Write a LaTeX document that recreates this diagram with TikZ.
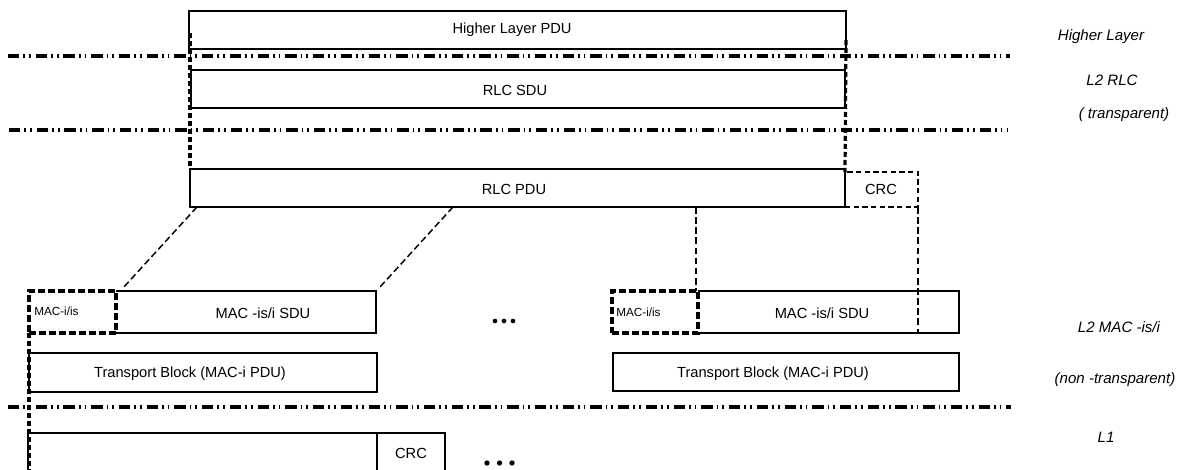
\documentclass[tikz,border=0pt]{standalone}
\usepackage{fontspec}
\setmainfont{Liberation Sans}
\usetikzlibrary{calc}
\begin{document}
\begin{tikzpicture}[x=0.75pt,y=-0.75pt,
  pbox/.style={draw,line width=1.2pt,inner sep=0pt,outer sep=0pt},
  nobox/.style={inner sep=0pt,outer sep=0pt},
  crcbox/.style={draw,line width=1.1pt,dash pattern=on 4pt off 2.5pt,inner sep=0pt,outer sep=0pt},
  hdrbox/.style={draw,line width=2.4pt,dash pattern=on 5pt off 2.5pt,inner sep=0pt,outer sep=0pt},
  layerline/.style={line width=2.6pt,dash pattern=on 8.5pt off 3pt on 1.3pt off 3pt on 1.3pt off 3.7pt},
  thickdash/.style={line width=2.4pt,dash pattern=on 3.6pt off 2.4pt},
  thindash/.style={line width=1.1pt,dash pattern=on 5pt off 2.6pt},
  txt/.style={inner sep=0pt,font=\fontsize{11}{13}\selectfont},
  smalltxt/.style={inner sep=0pt,font=\fontsize{8.8}{10}\selectfont},
  lyr/.style={inner sep=0pt,font=\fontsize{11.3}{13}\selectfont\itshape},
  dot/.style={circle,fill,inner sep=0pt,minimum size=3.5pt}
]
\useasboundingbox (0,0) rectangle (1181,470);
\clip (0,0) rectangle (1181,470);

% layer separator lines
\draw[layerline] (8,56) -- (1010,56);
\draw[layerline] (9,130) -- (1008,130);
\draw[layerline] (8,407) -- (1011,407);

% upper boxes
\node[pbox,minimum width=492.75pt,minimum height=28.5pt] (hl) at (517.5,30) {};
\node[txt] (hlt) at (512,30) {Higher Layer PDU};
\node[pbox,minimum width=490.5pt,minimum height=28.5pt] (sdu) at (518,89) {};
\node[txt] (sdut) at (515,90) {RLC SDU};
\node[pbox,minimum width=491.25pt,minimum height=28.5pt] (pdu) at (517.5,188) {};
\node[txt] (pdut) at (514,189) {RLC PDU};
\node[crcbox,minimum width=54.75pt,minimum height=26.25pt] (crc1) at (881.5,189.5) {};
\node[txt] (crc1t) at (881,189) {CRC};

% MAC level, first block
\node[nobox,minimum width=195pt,minimum height=31.5pt] (sd1) at (246,312) {};
\draw[line width=1.2pt] (sd1.north west) -- (sd1.north east) -- (sd1.south east) -- (sd1.south west);
\node[txt] (sd1t) at (263,313) {MAC -is/i SDU};
\node[hdrbox,minimum width=65.25pt,minimum height=31.5pt] (mh1) at (72.5,312) {};
\node[smalltxt,anchor=west] (mh1t) at (34,311) {MAC-i/is};
\node[pbox,minimum width=261pt,minimum height=29.25pt] (tb1) at (203,372.5) {};
\node[txt] (tb1t) at (190,374) {Transport Block (MAC-i PDU)};

% MAC level, second block
\node[nobox,minimum width=195.75pt,minimum height=31.5pt] (sd2) at (828.5,312) {};
\draw[line width=1.2pt] (sd2.north west) -- (sd2.north east) -- (sd2.south east) -- (sd2.south west);
\node[txt] (sd2t) at (822,313) {MAC -is/i SDU};
\node[hdrbox,minimum width=64.5pt,minimum height=31.5pt] (mh2) at (655,312) {};
\node[smalltxt,anchor=west] (mh2t) at (616,312) {MAC-i/is};
\node[pbox,minimum width=259.5pt,minimum height=28.5pt] (tb2) at (786,372) {};
\node[txt] (tb2t) at (773,374) {Transport Block (MAC-i PDU)};

% L1
\node[pbox,minimum width=261.75pt,minimum height=42.75pt] (l1) at (202.5,461.5) {};
\node[pbox,minimum width=51pt,minimum height=42.75pt] (crc2) at (411,461.5) {};
\node[txt] (crc2t) at (411,453) {CRC};

% ellipses
\node[dot] (e1) at (495,321) {};
\node[dot] (e2) at (504,321) {};
\node[dot] (e3) at (513,321) {};
\node[dot,minimum size=4pt] (f1) at (487,463) {};
\node[dot,minimum size=4pt] (f2) at (499.5,463) {};
\node[dot,minimum size=4pt] (f3) at (512,463) {};

% thick dashed verticals
\coordinate (hlL) at (190,33);
\coordinate (hlR) at (846,40);
\coordinate (botL) at (29,472);
\draw[thickdash] (hlL) -- (pdu.north west);
\draw[thickdash] (hlR) -- (crc1.north west);
\draw[thickdash] (mh1.south west) -- (botL);

% thin dashed mapping lines
\coordinate (a1) at (197,207);
\coordinate (a2) at (123,288);
\coordinate (b1) at (453,207);
\coordinate (b2) at (380,287);
\coordinate (c1) at (696,207);
\coordinate (c2) at (696,291);
\coordinate (d2) at (918,333);
\draw[thindash] (a1) -- (a2);
\draw[thindash] (b1) -- (b2);
\draw[thindash] (c1) -- (c2);
\draw[thindash] (crc1.south east) -- (d2);

% layer labels
\node[lyr] (lhl) at (1101,37) {Higher Layer};
\node[lyr] (lrlc) at (1112,80) {L2 RLC};
\node[lyr] (ltr) at (1124,115) {( transparent)};
\node[lyr] (lmac) at (1119,327) {L2 MAC -is/i};
\node[lyr] (lnt) at (1115,380) {(non -transparent)};
\node[lyr] (ll1) at (1106,437) {L1};
\end{tikzpicture}
\end{document}
